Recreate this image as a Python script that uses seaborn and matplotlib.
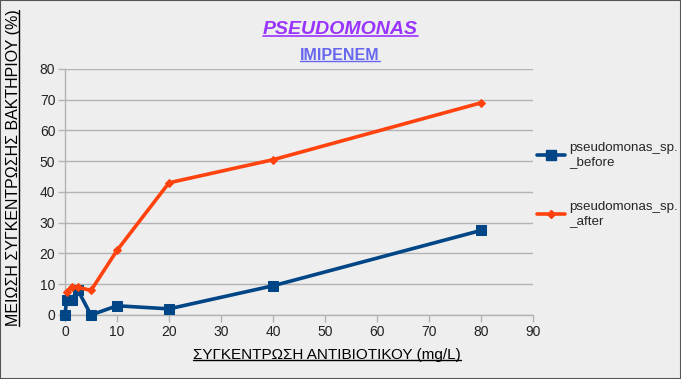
import matplotlib
matplotlib.use("Agg")
import matplotlib.pyplot as plt
from matplotlib.lines import Line2D
from matplotlib.patches import Rectangle
import seaborn as sns
import pandas as pd

# ---- data ----
x_before = [0, 0.3125, 1.25, 2.5, 5, 10, 20, 40, 80]
y_before = [0, 5, 5, 8, 0, 3, 2, 9.5, 27.5]
x_after = [0.3125, 1.25, 2.5, 5, 10, 20, 40, 80]
y_after = [7.5, 9, 9, 8, 21, 43, 50.5, 69]
series_names = ["pseudomonas_sp._before", "pseudomonas_sp._after"]
legend_labels = ["pseudomonas_sp.\n_before", "pseudomonas_sp.\n_after"]
x_ticks = [0, 10, 20, 30, 40, 50, 60, 70, 80, 90]
y_ticks = [0, 10, 20, 30, 40, 50, 60, 70, 80]
title = "PSEUDOMONAS"
subtitle = "IMIPENEM"
x_label = "ΣΥΓΚΕΝΤΡΩΣΗ ΑΝΤΙΒΙΟΤΙΚΟΥ (mg/L)"
y_label = "ΜΕΙΩΣΗ ΣΥΓΚΕΝΤΡΩΣΗΣ ΒΑΚΤΗΡΙΟΥ (%)"

blue = "#004586"
orange = "#ff420e"
bg = "#eeeeee"

sns.set_theme(style="white")
plt.rcParams["font.family"] = ["Liberation Sans", "DejaVu Sans"]

df_b = pd.DataFrame({"x": x_before, "y": y_before})
df_a = pd.DataFrame({"x": x_after, "y": y_after})

fig = plt.figure(figsize=(6.81, 3.79), dpi=100, facecolor=bg)
ax = fig.add_axes([65 / 681, 1 - 315 / 379, 468 / 681, 246 / 379])
ax.set_facecolor(bg)

sns.lineplot(data=df_b, x="x", y="y", ax=ax, color=blue, linewidth=2.6,
             marker="s", markersize=7.5, markeredgecolor=blue, sort=False,
             label=series_names[0], legend=False, zorder=3, clip_on=False)
sns.lineplot(data=df_a, x="x", y="y", ax=ax, color=orange, linewidth=2.6,
             marker="D", markersize=4.5, markeredgecolor=orange, sort=False,
             label=series_names[1], legend=False, zorder=4, clip_on=False)

ax.set_xlim(0, 90)
ax.set_ylim(0, 80)
ax.set_xticks(x_ticks)
ax.set_yticks(y_ticks)
ax.yaxis.grid(True, color="#b3b3b3", linewidth=1)
ax.xaxis.grid(False)
ax.set_axisbelow(True)
for s in ["top", "right"]:
    ax.spines[s].set_visible(False)
for s in ["left", "bottom"]:
    ax.spines[s].set_color("#b3b3b3")
    ax.spines[s].set_linewidth(1)
ax.tick_params(axis="both", which="both", direction="out", length=5,
               width=1, color="#b3b3b3", labelsize=10, labelcolor="#222222",
               bottom=True, left=True, pad=2)
ax.set_xlabel("")
ax.set_ylabel("")

# legend
handles = [
    Line2D([], [], color=blue, linewidth=2.6, marker="s", markersize=7.5),
    Line2D([], [], color=orange, linewidth=2.6, marker="D", markersize=4.5),
]
fig.legend(handles, legend_labels, loc="upper left",
           bbox_to_anchor=(532 / 681, 1 - 137 / 379), frameon=False,
           fontsize=9.6, labelspacing=2.5, handlelength=2.1, handletextpad=0.3,
           borderaxespad=0)

# texts
t1 = fig.text(340 / 681, 1 - 30 / 379, title, ha="center", va="center",
              fontsize=14, fontweight="bold", fontstyle="italic", color="#9933ff")
t2 = fig.text(340 / 681, 1 - 55 / 379, subtitle, ha="center", va="center",
              fontsize=11.5, fontweight="bold", color="#6666ee")
t3 = fig.text(327 / 681, 1 - 355 / 379, x_label, ha="center", va="center",
              fontsize=11, color="#000000")
t4 = fig.text(14 / 681, 1 - 168 / 379, y_label, ha="center", va="center",
              fontsize=11.5, color="#000000", rotation=90)

fig.canvas.draw()
r = fig.canvas.get_renderer()
inv = fig.transFigure.inverted()


def underline(t, color, lw=1.0, vertical=False, off=1.5):
    bb = t.get_window_extent(renderer=r)
    if not vertical:
        (x0, y0) = inv.transform((bb.x0, bb.y0 + off))
        (x1, _) = inv.transform((bb.x1, bb.y0 + off))
        fig.add_artist(Line2D([x0, x1], [y0, y0], color=color, linewidth=lw,
                              transform=fig.transFigure))
    else:
        (x0, y0) = inv.transform((bb.x1 - off, bb.y0))
        (_, y1) = inv.transform((bb.x1 - off, bb.y1))
        fig.add_artist(Line2D([x0, x0], [y0, y1], color=color, linewidth=lw,
                              transform=fig.transFigure))


underline(t1, "#9933ff", 1.2, off=2.5)
underline(t2, "#6666ee", 1.0, off=2)
underline(t3, "#000000", 1.0, off=2.5)
underline(t4, "#000000", 1.0, vertical=True, off=2.5)

fig.add_artist(Rectangle((0, 0), 1, 1, transform=fig.transFigure,
                         fill=False, edgecolor="#555555", linewidth=1.5))

fig.savefig("out.png", dpi=100, facecolor=bg)
